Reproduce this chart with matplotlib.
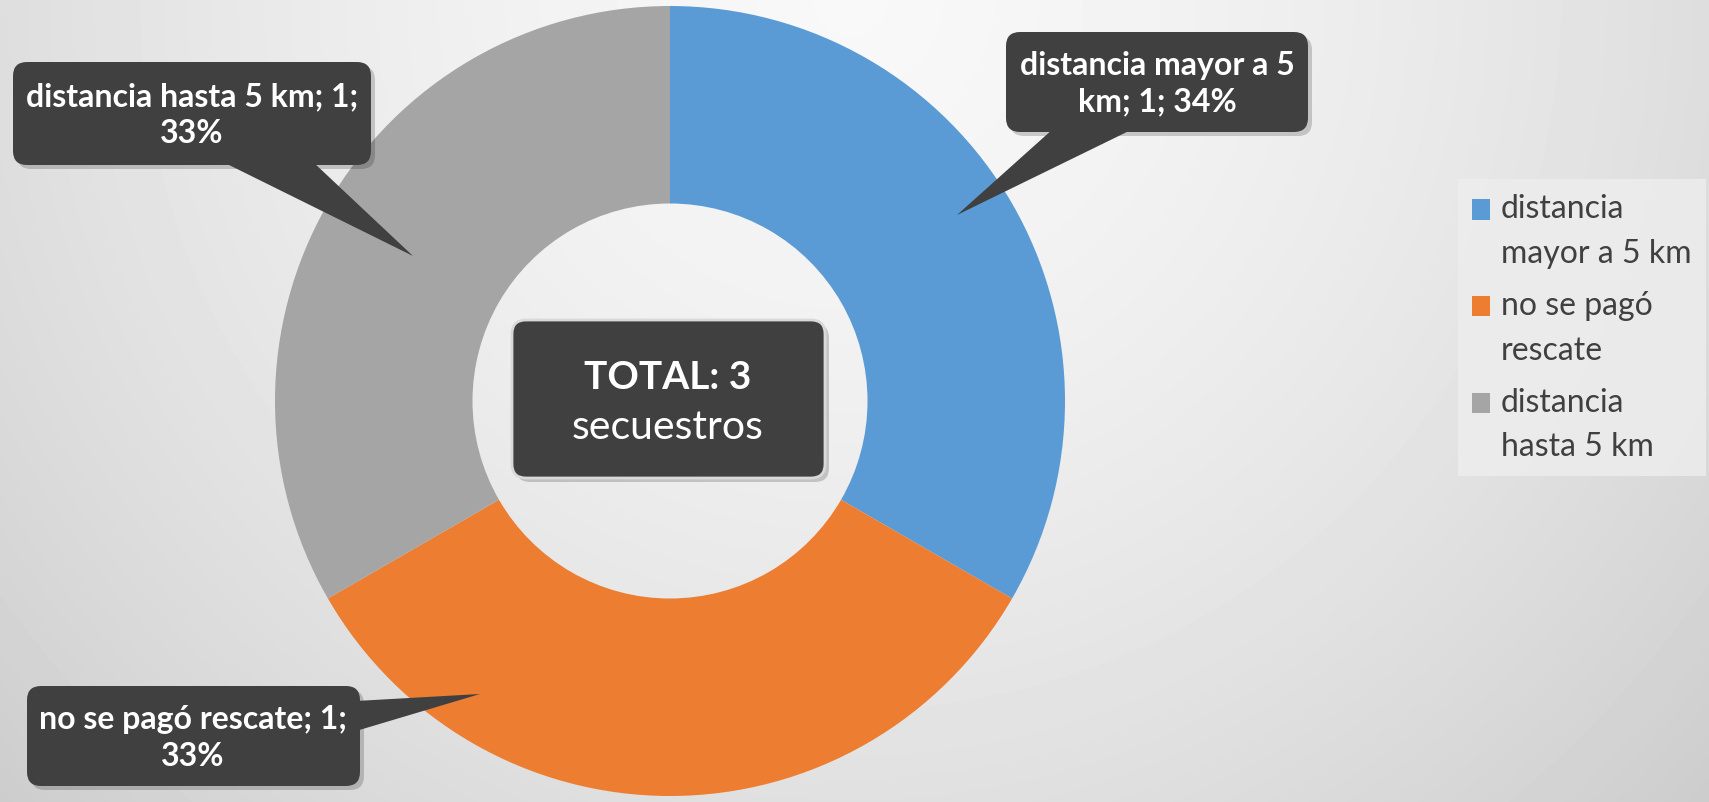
import numpy as np
import matplotlib
matplotlib.use("Agg")
import matplotlib.pyplot as plt
from matplotlib.patches import FancyBboxPatch, Polygon, Rectangle
from matplotlib.legend_handler import HandlerPatch

# datos del grafico
categorias = ["distancia mayor a 5 km", "no se pagó rescate", "distancia hasta 5 km"]
leyenda = ["distancia\nmayor a 5 km", "no se pagó\nrescate", "distancia\nhasta 5 km"]
valores = [1, 1, 1]
porcentajes = ["34%", "33%", "33%"]
etiquetas = ["distancia mayor a 5\nkm; 1; 34%",
             "no se pagó rescate; 1;\n33%",
             "distancia hasta 5 km; 1;\n33%"]
total = 3
colores = ["#5B9BD5", "#ED7D31", "#A5A5A5"]

W, H = 1709, 803
plt.rcParams['font.family'] = ['Lato', 'DejaVu Sans']

fig = plt.figure(figsize=(W / 100, H / 100), dpi=100)

# fondo con degradado radial
bg = fig.add_axes([0, 0, 1, 1])
yy, xx = np.mgrid[0:H, 0:W]
d = np.sqrt((xx - 850) ** 2 + (yy - 0) ** 2)
g = np.clip(0.975 - 0.6e-4 * d - 0.75e-7 * d ** 2, 0.78, 1)
bg.imshow(g, cmap="gray", vmin=0, vmax=1, extent=[0, W, 0, H], origin="upper", aspect="auto")
bg.axis("off")

ax = fig.add_axes([0, 0, 1, 1])
ax.patch.set_alpha(0)


def P(x, y):
    return (x, H - y)


cx, cy = P(670, 402)
r = 395
wedges, _ = ax.pie(valores, colors=colores, startangle=90, counterclock=False,
                   center=(cx, cy), radius=r,
                   wedgeprops=dict(width=r * 0.5, linewidth=0))
ax.set_xlim(0, W)
ax.set_ylim(0, H)
ax.set_aspect("equal")
ax.axis("off")

dark = "#404040"


def caja(x0, y0, x1, y1, puntero=None, borde=None):
    # sombra
    ax.add_patch(FancyBboxPatch(P(x0 + 4, y1 + 4), x1 - x0, y1 - y0,
                                boxstyle="round,pad=0,rounding_size=14",
                                fc="black", ec="none", alpha=0.18, zorder=4))
    if puntero is not None:
        pts = [P(*p) for p in puntero]
        ax.add_patch(Polygon(pts, closed=True, fc=dark, ec="none", zorder=5))
    ax.add_patch(FancyBboxPatch(P(x0, y1), x1 - x0, y1 - y0,
                                boxstyle="round,pad=0,rounding_size=14",
                                fc=dark, ec=borde if borde else "none",
                                lw=2 if borde else 0, zorder=5))


# etiquetas tipo globo
caja(1006, 33, 1308, 133, [(1053, 130), (1133, 130), (957, 216)])
ax.text(*P(1157, 84), etiquetas[0], ha="center", va="center", color="white",
        fontsize=23, fontweight="bold", linespacing=1.3, zorder=6)

caja(13, 63, 371, 166, [(223, 163), (313, 163), (413, 257)])
ax.text(*P(192, 115), etiquetas[2], ha="center", va="center", color="white",
        fontsize=23, fontweight="bold", linespacing=1.3, zorder=6)

caja(27, 687, 360, 787, [(356, 702), (356, 732), (480, 695)])
ax.text(*P(193, 738), etiquetas[1], ha="center", va="center", color="white",
        fontsize=23, fontweight="bold", linespacing=1.3, zorder=6)

# caja central
caja(512, 321, 825, 479, borde="#D9D9D9")
ax.text(*P(668, 378), "TOTAL: %d" % total, ha="center", va="center", color="white",
        fontsize=28, fontweight="bold", zorder=6)
ax.text(*P(668, 428), "secuestros", ha="center", va="center", color="white",
        fontsize=29.5, zorder=6)


# cuadrito de la leyenda alineado con la primera linea
def cuadro(legend, orig_handle, xdescent, ydescent, width, height, fontsize):
    return Rectangle((-xdescent, -ydescent + 15), width * 1.1, height * 1.1)


leg = ax.legend(wedges, leyenda, loc="upper left",
                bbox_to_anchor=(1458 / W, 1 - 180 / H), bbox_transform=fig.transFigure,
                frameon=True, fancybox=False, fontsize=23, labelcolor="#404040",
                handlelength=0.5, handleheight=0.5, handletextpad=0.4,
                labelspacing=0.7, borderpad=0.45, borderaxespad=0,
                handler_map={w: HandlerPatch(patch_func=cuadro) for w in wedges})
leg.get_frame().set_facecolor("#EDEDED")
leg.get_frame().set_edgecolor("none")
leg.get_frame().set_alpha(0.85)
for t in leg.get_texts():
    t.set_linespacing(1.6)

fig.savefig("out.png", dpi=100)
